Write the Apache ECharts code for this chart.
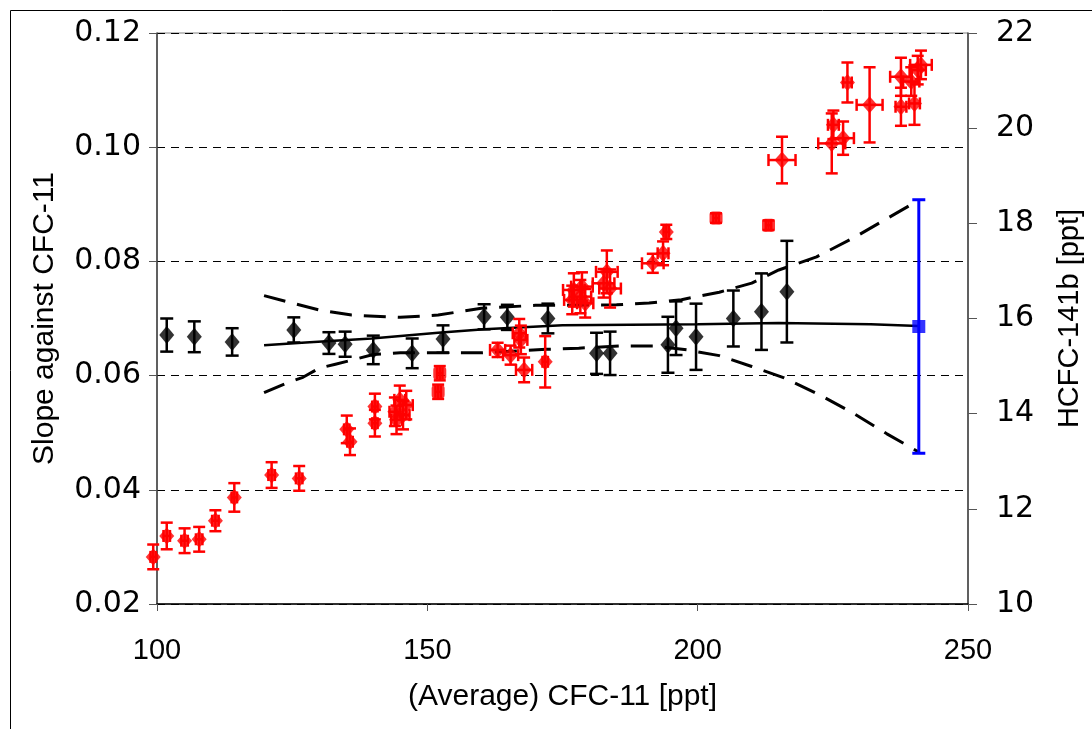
<!DOCTYPE html>
<html><head><meta charset="utf-8">
<script src="https://cdn.jsdelivr.net/npm/echarts@6/dist/echarts.min.js"></script>
<style>html,body{margin:0;padding:0;background:#fff}#c{width:1092px;height:729px}</style>
</head><body><div id="c"></div>
<script>
// ---- data ----
var xTicks = [100, 150, 200, 250];
var leftTicks = [0.02, 0.04, 0.06, 0.08, 0.10, 0.12];
var rightTicks = [10, 12, 14, 16, 18, 20, 22];

// slopes against CFC-11 (left axis)
var blackX = [101.8, 106.9, 113.9, 125.3, 131.8, 134.8, 140.0, 147.2, 152.9, 160.5, 164.8, 172.3, 181.3, 183.8, 194.5, 196.0, 199.7, 206.6, 211.8, 216.5];
var blackY = [0.0671, 0.0668, 0.0659, 0.0680, 0.0657, 0.0655, 0.0645, 0.0639, 0.0664, 0.0703, 0.0702, 0.0700, 0.0639, 0.0639, 0.0654, 0.0683, 0.0668, 0.0700, 0.0712, 0.0747];
var blackErr = [0.0029, 0.0027, 0.0024, 0.0022, 0.0019, 0.0022, 0.0025, 0.0026, 0.0024, 0.0022, 0.0022, 0.0026, 0.0036, 0.0038, 0.0049, 0.0047, 0.0058, 0.0049, 0.0067, 0.0089];

// mean slope (left axis)
var blueX = [240.9];
var blueY = [0.0686];
var blueErr = [0.0222];

// fit and confidence band (left axis)
var fitX = [119.8, 127.5, 139.7, 152.0, 160.5, 175.0, 200.0, 215.0, 232.0, 240.9];
var fitY = [0.0653, 0.0658, 0.0665, 0.0675, 0.0681, 0.0688, 0.0690, 0.0692, 0.0690, 0.0687];
var upperX = [119.8, 125, 130, 136, 145, 152, 160, 170, 185, 191, 197, 204, 210, 215, 222, 229, 235, 240.9];
var upperY = [0.0740, 0.0727, 0.0715, 0.0706, 0.0702, 0.0706, 0.0718, 0.0723, 0.0724, 0.0727, 0.0733, 0.0746, 0.0762, 0.0785, 0.0808, 0.0842, 0.0875, 0.0907];
var lowerX = [119.8, 124, 127, 130, 133, 136, 140, 145, 160, 172, 178, 186, 192, 198, 204, 210, 216, 223, 229, 235, 240.9];
var lowerY = [0.0570, 0.0587, 0.0597, 0.0613, 0.0620, 0.0627, 0.0637, 0.0640, 0.0640, 0.0646, 0.0648, 0.0652, 0.0652, 0.0645, 0.0635, 0.0616, 0.0596, 0.0564, 0.0533, 0.0498, 0.0466];

// HCFC-141b [ppt] (right axis)
var redX = [99.3, 101.8, 105.1, 107.8, 110.8, 114.3, 121.2, 126.3, 135.1, 135.7, 140.3, 140.3, 144.0, 144.9, 146.1, 144.3, 145.5, 163.0, 165.4, 167.0, 167.3, 167.9, 171.8, 177.1, 178.3, 178.6, 176.8, 179.2, 183.2, 183.8, 182.6, 191.7, 193.6, 194.2, 215.6, 225.1, 224.8, 226.9, 227.7, 231.8, 237.6, 237.6, 240.1, 240.7, 241.3, 239.5];
var redY = [10.99, 11.43, 11.33, 11.36, 11.75, 12.24, 12.71, 12.64, 13.67, 13.41, 14.15, 13.80, 14.04, 14.29, 14.18, 13.87, 13.97, 15.34, 15.23, 15.69, 15.55, 14.92, 15.09, 16.60, 16.46, 16.67, 16.39, 16.32, 16.98, 16.63, 16.74, 17.16, 17.37, 17.82, 19.33, 20.07, 19.68, 19.79, 20.96, 20.49, 21.08, 20.45, 20.52, 21.22, 21.33, 20.98];
var redYErr = [0.26, 0.28, 0.26, 0.26, 0.22, 0.30, 0.27, 0.26, 0.29, 0.28, 0.27, 0.28, 0.30, 0.30, 0.30, 0.30, 0.30, 0.15, 0.20, 0.30, 0.30, 0.26, 0.54, 0.35, 0.35, 0.30, 0.30, 0.30, 0.45, 0.40, 0.30, 0.20, 0.25, 0.15, 0.49, 0.30, 0.63, 0.35, 0.42, 0.79, 0.40, 0.40, 0.45, 0.30, 0.30, 0.30];
var redXErr = [0.5, 0.6, 0.6, 0.6, 0.6, 0.5, 0.6, 0.6, 0.5, 0.5, 0.5, 0.5, 1.0, 1.0, 1.2, 1.0, 1.2, 1.4, 1.4, 1.2, 1.2, 1.5, 0.5, 2.0, 2.0, 2.0, 1.5, 1.5, 2.0, 2.0, 2.0, 2.0, 1.0, 0.5, 2.5, 1.0, 2.5, 2.0, 0.8, 2.4, 2.0, 1.0, 1.0, 1.5, 2.0, 1.5];
var redSqX = [152.3, 152.0, 203.4, 213.1];
var redSqY = [14.85, 14.46, 18.11, 17.96];
var redSqYErr = [0.15, 0.15, 0.10, 0.10];
var redSqXErr = [0.5, 0.5, 0.5, 0.5];

// ---- helpers ----
function zip2(a, b) { return a.map(function (v, i) { return [v, b[i]]; }); }
function zip4(a, b, c, d) { return a.map(function (v, i) { return [v, b[i], c[i], d ? d[i] : 0]; }); }
function errRender(color, lw, cap) {
  return function (params, api) {
    var x = api.value(0), y = api.value(1), ey = api.value(2), ex = api.value(3);
    var st = { stroke: color, lineWidth: lw };
    var kids = [];
    if (ey > 0) {
      var t = api.coord([x, y + ey]), b = api.coord([x, y - ey]);
      kids.push({ type: 'line', shape: { x1: t[0], y1: t[1], x2: b[0], y2: b[1] }, style: st });
      kids.push({ type: 'line', shape: { x1: t[0] - cap, y1: t[1], x2: t[0] + cap, y2: t[1] }, style: st });
      kids.push({ type: 'line', shape: { x1: b[0] - cap, y1: b[1], x2: b[0] + cap, y2: b[1] }, style: st });
    }
    if (ex > 0) {
      var l = api.coord([x - ex, y]), r = api.coord([x + ex, y]);
      kids.push({ type: 'line', shape: { x1: l[0], y1: l[1], x2: r[0], y2: r[1] }, style: st });
      kids.push({ type: 'line', shape: { x1: l[0], y1: l[1] - cap, x2: l[0], y2: l[1] + cap }, style: st });
      kids.push({ type: 'line', shape: { x1: r[0], y1: r[1] - cap, x2: r[0], y2: r[1] + cap }, style: st });
    }
    return { type: 'group', children: kids };
  };
}

var FONT = 'Liberation Sans, Arial, sans-serif';
var WIDE = 'DejaVu Sans, Liberation Sans, sans-serif';
var chart = echarts.init(document.getElementById('c'), null, { renderer: 'canvas' });
chart.setOption({
  animation: false,
  backgroundColor: '#fff',
  graphic: [{ type: 'rect', left: 8, top: 8, shape: { width: 1200, height: 900 }, style: { fill: 'none', stroke: '#000', lineWidth: 1 }, silent: true }],
  grid: { left: 157, right: 118, top: 33, bottom: 125, show: true, borderColor: '#808080', borderWidth: 1, backgroundColor: 'transparent' },
  xAxis: {
    type: 'value', min: 100, max: 250, interval: 50,
    name: '(Average) CFC-11 [ppt]', nameLocation: 'middle', nameGap: 78,
    nameTextStyle: { fontFamily: FONT, fontSize: 30, color: '#000' },
    axisLine: { lineStyle: { color: '#000', width: 1.5 } },
    axisTick: { show: true, length: 7, lineStyle: { color: '#555' } },
    axisLabel: { fontFamily: FONT, fontSize: 29, color: '#000', margin: 32,
      formatter: function (v) { return xTicks.indexOf(v) >= 0 ? String(v) : ''; } },
    splitLine: { show: false }
  },
  yAxis: [{
    type: 'value', min: 0.02, max: 0.12, interval: 0.02, position: 'left',
    name: 'Slope against CFC-11', nameLocation: 'middle', nameGap: 97, nameRotate: 90,
    nameTextStyle: { fontFamily: FONT, fontSize: 30, color: '#000' },
    axisLine: { show: true, lineStyle: { color: '#404040', width: 1.5 } },
    axisTick: { show: true, length: 8, lineStyle: { color: '#555' } },
    axisLabel: { fontFamily: WIDE, fontSize: 30, color: '#000', margin: 16,
      formatter: function (v) { var s = v.toFixed(2); return leftTicks.map(function (t) { return t.toFixed(2); }).indexOf(s) >= 0 ? s : ''; } },
    splitLine: { show: true, lineStyle: { color: '#000', type: [8, 6], width: 1 } }
  }, {
    type: 'value', min: 10, max: 22, interval: 2, position: 'right',
    name: 'HCFC-141b [ppt]', nameLocation: 'middle', nameGap: 87, nameRotate: 90,
    nameTextStyle: { fontFamily: FONT, fontSize: 29, color: '#000' },
    axisLine: { show: true, lineStyle: { color: '#404040', width: 1.5 } },
    axisTick: { show: true, length: 9, lineStyle: { color: '#555' } },
    axisLabel: { fontFamily: WIDE, fontSize: 30, color: '#000', margin: 28,
      formatter: function (v) { return rightTicks.indexOf(Math.round(v)) >= 0 ? String(Math.round(v)) : ''; } },
    splitLine: { show: false }
  }],
  series: [
    { type: 'line', yAxisIndex: 0, data: zip2(upperX, upperY), symbol: 'none', smooth: false,
      lineStyle: { color: '#000', width: 3, type: [22, 12] }, z: 2 },
    { type: 'line', yAxisIndex: 0, data: zip2(lowerX, lowerY), symbol: 'none',
      lineStyle: { color: '#000', width: 3, type: [22, 12] }, z: 2 },
    { type: 'line', yAxisIndex: 0, data: zip2(fitX, fitY), symbol: 'none',
      lineStyle: { color: '#000', width: 2.5 }, z: 2 },
    { type: 'custom', yAxisIndex: 0, data: zip4(blackX, blackY, blackErr), encode: { x: 0, y: 1 },
      renderItem: errRender('#000', 2.5, 6.5), z: 3 },
    { type: 'scatter', yAxisIndex: 0, data: zip2(blackX, blackY), symbol: 'diamond', symbolSize: [15, 18],
      itemStyle: { color: '#000' }, z: 4 },
    { type: 'custom', yAxisIndex: 1, data: zip4(redX, redY, redYErr, redXErr), encode: { x: 0, y: 1 },
      renderItem: errRender('#ff0000', 2.5, 6), clip: false, z: 5 },
    { type: 'custom', yAxisIndex: 1, data: zip4(redSqX, redSqY, redSqYErr, redSqXErr), encode: { x: 0, y: 1 },
      renderItem: errRender('#ff0000', 2.5, 6), z: 5 },
    { type: 'scatter', yAxisIndex: 1, data: zip2(redX, redY), symbol: 'diamond', symbolSize: [15, 17],
      itemStyle: { color: '#ff0000' }, clip: false, z: 6 },
    { type: 'scatter', yAxisIndex: 1, data: zip2(redSqX, redSqY), symbol: 'roundRect', symbolSize: [13, 13],
      itemStyle: { color: '#ff0000' }, z: 6 },
    { type: 'custom', yAxisIndex: 0, data: zip4(blueX, blueY, blueErr), encode: { x: 0, y: 1 },
      renderItem: errRender('#0000ff', 3, 6.5), z: 7 },
    { type: 'scatter', yAxisIndex: 0, data: zip2(blueX, blueY), symbol: 'rect', symbolSize: 13,
      itemStyle: { color: '#0000ff' }, z: 8 }
  ]
});
</script></body></html>
